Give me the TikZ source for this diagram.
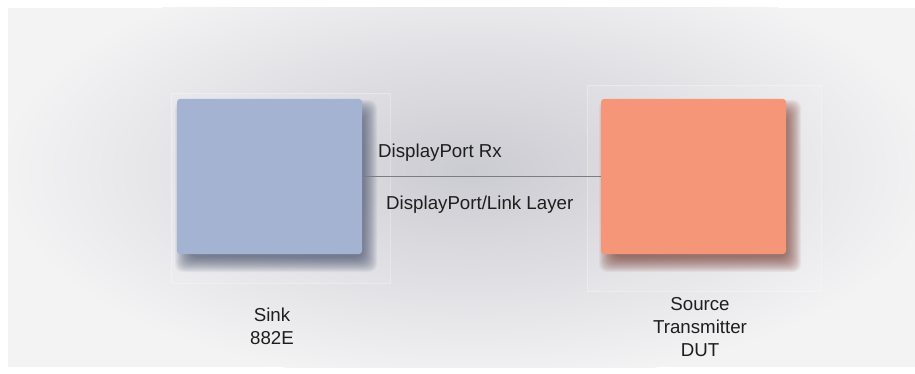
\documentclass[tikz,border=0pt]{standalone}
\usepackage{fontspec}
\setmainfont{Liberation Sans}
\usepackage{tikz}
\definecolor{sinkblue}{RGB}{165,179,210}
\definecolor{srcorange}{RGB}{245,150,120}
\definecolor{sinkshade}{RGB}{60,70,100}
\definecolor{srcshade}{RGB}{115,50,40}
\definecolor{panelout}{RGB}{243,243,244}
\definecolor{panelin}{RGB}{203,203,210}
\definecolor{wire}{RGB}{125,125,128}
\definecolor{ink}{RGB}{30,30,30}
\tikzset{
  devbox/.style={rectangle, rounded corners=3pt, minimum width=185pt, minimum height=155pt, inner sep=0pt},
  frame/.style={draw=white, draw opacity=0.3, fill=white, fill opacity=0.08, line width=0.8pt},
  link/.style={draw=wire, line width=1.4pt},
  lbl/.style={text=ink, inner sep=0pt, font=\fontsize{18.7}{23}\selectfont},
}

\begin{document}
\begin{tikzpicture}[x=1pt, y=-1pt]
    \useasboundingbox (0,0) rectangle (915,374);
    % Hintergrund
    \fill[white] (0,0) rectangle (915,374);
    \fill[panelout] (8,8) rectangle (915,367);
    \begin{scope}
        \clip (8,8) rectangle (915,367);
        \shade[inner color=panelin, outer color=panelout] (470,170) ellipse (470pt and 215pt);
    \end{scope}
    % Rahmen
    \filldraw[frame] (171,93) rectangle (390,283);
    \filldraw[frame] (587,85) rectangle (821,291);
    % Schatten
    \foreach \i in {0,...,15} {
        \fill[sinkshade, opacity=0.06, rounded corners=8pt]
            (175+\i,100+\i) rectangle (377-\i,272-\i);
        \fill[srcshade, opacity=0.06, rounded corners=8pt]
            (599+\i,100+\i) rectangle (801-\i,272-\i);
    }
    % Geraete
    \node[devbox, fill=sinkblue] (sink) at (269.5,176.5) {};
    \node[devbox, fill=srcorange] (src) at (693.5,176.5) {};
    % Verbindung
    \draw[link] (sink.east) -- (src.west);
    \node[lbl, anchor=base west] (rx) at (378,158) {DisplayPort Rx};
    \node[lbl, anchor=base west] (layer) at (386,210) {DisplayPort/Link Layer};
    % Beschriftungen
    \node[lbl, anchor=north, align=center] (sinkname) at (272,308) {Sink\\882E};
    \node[lbl, anchor=north, align=center] (srcname) at (700,297.5) {Source\\Transmitter\\DUT};
\end{tikzpicture}
\end{document}
